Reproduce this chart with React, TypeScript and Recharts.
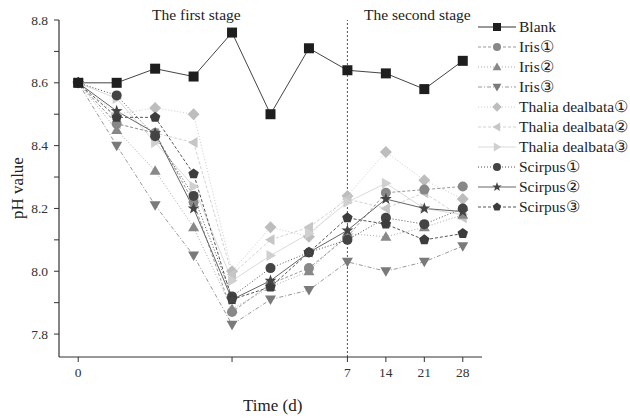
import React from 'react';
import { LineChart, Line, XAxis, YAxis, ReferenceLine } from 'recharts';

const dayLabels = ['0', '1', '2', '3', '4', '5', '6', '7', '14', '21', '28'];
const xTickIdx = [0, 4, 7, 8, 9, 10];
const xTickText: Record<number, string> = { 0: '0', 4: '', 7: '7', 8: '14', 9: '21', 10: '28' };
const yTicks = [7.8, 7.9, 8.0, 8.1, 8.2, 8.3, 8.4, 8.5, 8.6, 8.7, 8.8];

const blank = [8.6, 8.6, 8.645, 8.62, 8.76, 8.5, 8.71, 8.64, 8.63, 8.58, 8.67];
const iris1 = [8.6, 8.47, 8.44, 8.22, 7.87, 7.96, 8.01, 8.11, 8.25, 8.26, 8.27];
const iris2 = [8.6, 8.45, 8.32, 8.14, 7.88, 7.95, 8.0, 8.12, 8.11, 8.14, 8.18];
const iris3 = [8.6, 8.4, 8.21, 8.05, 7.83, 7.91, 7.94, 8.03, 8.0, 8.03, 8.08];
const thalia1 = [8.6, 8.5, 8.52, 8.5, 8.0, 8.14, 8.11, 8.24, 8.38, 8.29, 8.23];
const thalia2 = [8.6, 8.47, 8.44, 8.41, 7.99, 8.1, 8.14, 8.23, 8.2, 8.25, 8.17];
const thalia3 = [8.6, 8.55, 8.41, 8.27, 7.97, 8.05, 8.12, 8.22, 8.28, 8.2, 8.18];
const scirpus1 = [8.6, 8.56, 8.43, 8.24, 7.92, 8.01, 8.06, 8.1, 8.17, 8.15, 8.2];
const scirpus2 = [8.6, 8.51, 8.44, 8.2, 7.91, 7.97, 8.06, 8.13, 8.23, 8.2, 8.19];
const scirpus3 = [8.6, 8.49, 8.49, 8.31, 7.91, 7.95, 8.06, 8.17, 8.15, 8.1, 8.12];

const seriesNames = ['Blank', 'Iris①', 'Iris②', 'Iris③', 'Thalia dealbata①', 'Thalia dealbata②', 'Thalia dealbata③', 'Scirpus①', 'Scirpus②', 'Scirpus③'];
const seriesValues = [blank, iris1, iris2, iris3, thalia1, thalia2, thalia3, scirpus1, scirpus2, scirpus3];

const styles = [
  { shape: 'square', fill: '#1e1e1e', stroke: '#444', dash: undefined },
  { shape: 'circle', fill: '#888', stroke: '#999', dash: '3 2' },
  { shape: 'tri', fill: '#888', stroke: '#aaa', dash: '1 2' },
  { shape: 'tridown', fill: '#7a7a7a', stroke: '#999', dash: '4 2 1 2' },
  { shape: 'diamond', fill: '#bdbdbd', stroke: '#ccc', dash: '1 2' },
  { shape: 'trileft', fill: '#c6c6c6', stroke: '#d2d2d2', dash: '3 2' },
  { shape: 'triright', fill: '#d0d0d0', stroke: '#dadada', dash: undefined },
  { shape: 'circle', fill: '#444', stroke: '#555', dash: '1 2' },
  { shape: 'star', fill: '#444', stroke: '#666', dash: undefined },
  { shape: 'pentagon', fill: '#3c3c3c', stroke: '#555', dash: '3 2' },
];

const data = dayLabels.map((d, i) => {
  const row: any = { idx: i, day: d };
  seriesNames.forEach((n, k) => { row[n] = seriesValues[k][i]; });
  return row;
});

function poly(cx: number, cy: number, pts: number[][]) {
  return pts.map(([x, y]) => `${cx + x},${cy + y}`).join(' ');
}

function Marker({ shape, cx, cy, fill, s = 5 }: any) {
  if (cx == null || cy == null) return null;
  switch (shape) {
    case 'square':
      return <rect x={cx - s} y={cy - s} width={2 * s} height={2 * s} fill={fill} />;
    case 'circle':
      return <circle cx={cx} cy={cy} r={s} fill={fill} />;
    case 'tri':
      return <polygon points={poly(cx, cy, [[0, -s * 1.1], [s * 1.1, s * 0.8], [-s * 1.1, s * 0.8]])} fill={fill} />;
    case 'tridown':
      return <polygon points={poly(cx, cy, [[0, s * 1.1], [s * 1.1, -s * 0.8], [-s * 1.1, -s * 0.8]])} fill={fill} />;
    case 'trileft':
      return <polygon points={poly(cx, cy, [[-s * 1.1, 0], [s * 0.8, -s * 1.1], [s * 0.8, s * 1.1]])} fill={fill} />;
    case 'triright':
      return <polygon points={poly(cx, cy, [[s * 1.1, 0], [-s * 0.8, -s * 1.1], [-s * 0.8, s * 1.1]])} fill={fill} />;
    case 'diamond':
      return <polygon points={poly(cx, cy, [[0, -s * 1.2], [s * 1.2, 0], [0, s * 1.2], [-s * 1.2, 0]])} fill={fill} />;
    case 'star': {
      const pts: number[][] = [];
      for (let i = 0; i < 10; i++) {
        const r = i % 2 === 0 ? s * 1.25 : s * 0.5;
        const a = -Math.PI / 2 + (i * Math.PI) / 5;
        pts.push([r * Math.cos(a), r * Math.sin(a)]);
      }
      return <polygon points={poly(cx, cy, pts)} fill={fill} />;
    }
    case 'pentagon': {
      const pts: number[][] = [];
      for (let i = 0; i < 5; i++) {
        const a = -Math.PI / 2 + (i * 2 * Math.PI) / 5;
        pts.push([s * 1.1 * Math.cos(a), s * 1.1 * Math.sin(a)]);
      }
      return <polygon points={poly(cx, cy, pts)} fill={fill} />;
    }
    default:
      return null;
  }
}

const font = '"Liberation Serif", "Times New Roman", serif';

function YTick(props: any) {
  const { x, y, payload } = props;
  const v = payload.value;
  const major = Math.round(v * 10) % 2 === 0;
  if (!major) return <g />;
  return (
    <text x={x} y={y} dy={4.5} textAnchor="end" fontFamily={font} fontSize={13.5} fill="#333">
      {v.toFixed(1)}
    </text>
  );
}

export default function App() {
  const order = [4, 5, 6, 1, 2, 3, 7, 9, 8, 0];
  return (
    <div style={{ position: 'absolute', left: 0, top: 0, width: 630, height: 419, background: '#fff', fontFamily: font, overflow: 'hidden' }}>
      <LineChart width={630} height={419} data={data} margin={{ top: 20, left: 19, right: 148, bottom: 32 }}>
        <XAxis
          type="number"
          dataKey="idx"
          domain={[-0.5, 10.5]}
          ticks={xTickIdx}
          tickFormatter={(v: number) => xTickText[v] ?? ''}
          height={30}
          tickSize={5}
          tickMargin={5}
          axisLine={{ stroke: '#333', strokeWidth: 1.2 }}
          tickLine={{ stroke: '#333' }}
          tick={{ fontFamily: font, fontSize: 13.5, fill: '#333' }}
          interval={0}
          allowDataOverflow
        />
        <YAxis
          type="number"
          domain={[7.727, 8.8]}
          ticks={yTicks}
          width={40}
          tickSize={5}
          tickMargin={6}
          axisLine={{ stroke: '#333', strokeWidth: 1.2 }}
          tickLine={{ stroke: '#333' }}
          tick={<YTick />}
          interval={0}
          allowDataOverflow
        />
        <ReferenceLine x={7} stroke="#555" strokeDasharray="2 2" strokeWidth={1} />
        {order.map((k) => {
          const st = styles[k];
          return (
            <Line
              key={seriesNames[k]}
              type="linear"
              dataKey={seriesNames[k]}
              stroke={st.stroke}
              strokeWidth={1}
              strokeDasharray={st.dash}
              isAnimationActive={false}
              activeDot={false}
              dot={(p: any) => <Marker key={`${k}-${p.index}`} shape={st.shape} cx={p.cx} cy={p.cy} fill={st.fill} />}
            />
          );
        })}
      </LineChart>
      <div style={{ position: 'absolute', left: 152, top: 6, fontSize: 15.5, color: '#222', whiteSpace: 'nowrap' }}>The first stage</div>
      <div style={{ position: 'absolute', left: 364, top: 6, fontSize: 15.5, color: '#222', whiteSpace: 'nowrap' }}>The second stage</div>
      <div style={{ position: 'absolute', left: 243, top: 396, fontSize: 17, color: '#222', whiteSpace: 'nowrap' }}>Time (d)</div>
      <div style={{ position: 'absolute', left: 18, top: 188, fontSize: 17, color: '#222', whiteSpace: 'nowrap', transform: 'translate(-50%, -50%) rotate(-90deg)' }}>pH value</div>
      <div style={{ position: 'absolute', left: 476, top: 17, whiteSpace: 'nowrap' }}>
        {seriesNames.map((n, k) => {
          const st = styles[k];
          return (
            <div key={n} style={{ height: 20, display: 'flex', alignItems: 'center' }}>
              <svg width={42} height={20} style={{ display: 'block' }}>
                <line x1={2} y1={10} x2={40} y2={10} stroke={k === 0 ? '#333' : st.stroke} strokeWidth={1} strokeDasharray={st.dash} />
                <Marker shape={st.shape} cx={21} cy={10} fill={st.fill} s={4} />
              </svg>
              <span style={{ fontSize: 15.5, color: '#222', marginLeft: 1 }}>{n}</span>
            </div>
          );
        })}
      </div>
    </div>
  );
}
